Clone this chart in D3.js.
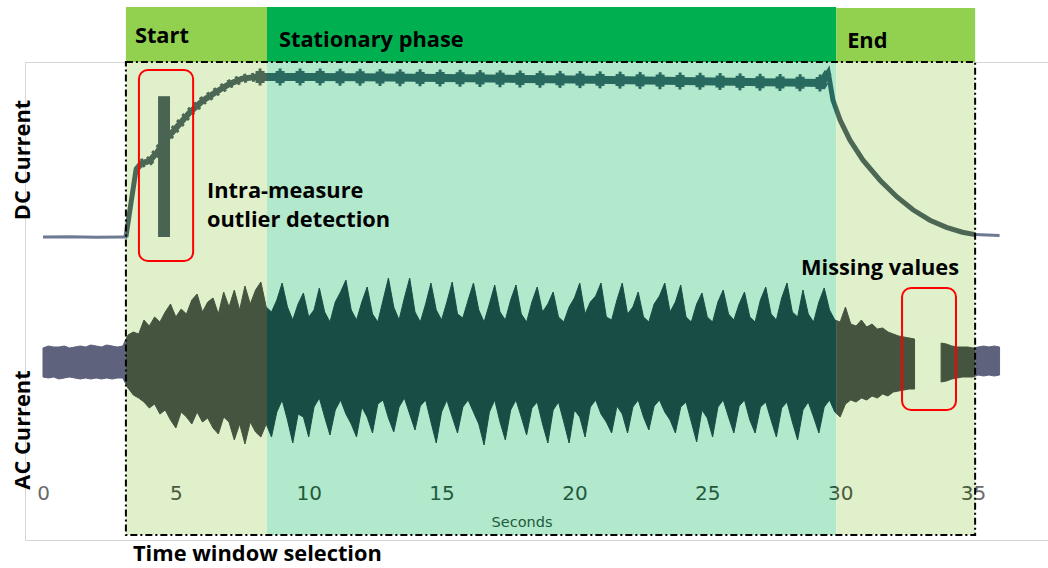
<!DOCTYPE html>
<html>
<head>
<meta charset="utf-8">
<script src="https://cdn.jsdelivr.net/npm/d3@7"></script>
<style>
    body { margin: 0; background: #fff; }
    .label { font-family: "Open Sans", Lato, sans-serif; font-weight: bold; font-size: 21.8px; fill: #000; }
    .tick text { font-family: "DejaVu Sans", sans-serif; font-size: 20px; }
</style>
</head>
<body>
<svg id="chart" width="1048" height="568"></svg>
<script>
// phases of the measure (seconds)
const phaseNames = ["Start", "Stationary phase", "End"];
const phaseFrom = [3.12, 8.43, 29.85];
const phaseTo = [8.43, 29.85, 35.08];
const headerColors = ["#92d050", "#00b050", "#92d050"];
const shadeColors = ["#dff0cb", "#b2e8cc", "#dff0cb"];

const tickValues = [0, 5, 10, 15, 20, 25, 30, 35];

// DC current
const dcTime = [0, 1, 2, 3, 3.12, 3.3, 3.5, 3.7, 4.0, 4.3, 4.6, 5.0, 5.5, 6.0, 6.5, 7.0, 7.5, 8.0, 8.43,
    10, 12, 14, 16, 18, 20, 22, 24, 26, 28, 29.3, 29.55, 29.73, 30.0, 30.37, 30.86, 31.5, 32.14, 32.74,
    33.38, 34.0, 34.6, 35.08, 36.0];
const dcValue = [0, 0.02, -0.02, 0, 0, 2.0, 4.2, 4.6, 4.75, 5.3, 6.05, 6.8, 7.75, 8.5, 9.05, 9.55, 9.9, 10.0, 10.0,
    10.0, 9.98, 9.95, 9.92, 9.88, 9.84, 9.8, 9.75, 9.7, 9.65, 9.62, 10.3, 8.55, 7.3, 6.05, 4.8, 3.55, 2.5, 1.7,
    1.05, 0.6, 0.3, 0.15, 0.1];

// outlier spike inside the start phase
const outlierFrom = 4.33, outlierTo = 4.78, outlierValue = 8.8;

// AC current envelope, one reading every 0.2 s (null = missing values)
const acStep = 0.2;
const acUpper = [14,16,15,15,16,14,15,16,15,17,16,15,17,16,15,16,
    27,30,28,42,36,45,40,50,58,45,53,48,62,68,50,60,64,48,70,55,72,52,76,58,72,80,55,
    50,62,79,55,42,58,69,45,52,74,
    50,40,60,70,82,52,42,60,75,48,
    40,62,84,55,42,64,84,50,40,58,
    79,52,42,60,80,48,44,62,79,52,
    40,58,77,50,42,62,77,48,40,60,
    75,50,58,70,45,40,55,64,79,48,
    60,66,79,45,42,62,79,48,55,70,
    45,40,58,66,79,50,60,77,45,40,
    58,69,45,40,60,72,48,42,58,70,
    45,40,62,75,48,42,64,79,50,45,
    72,48,40,60,74,52,42,
    40,55,38,36,42,35,38,33,34,30,
    28,26,25,24,23,null,null,null,null,19,
    18,16,15,15,15,14,15,16,15,16,15];
const acLower = [-15,-16,-15,-17,-16,-15,-16,-17,-16,-17,-16,-17,-16,-17,-16,-16,
    -26,-33,-36,-40,-46,-42,-52,-48,-58,-66,-50,-55,-62,-50,-60,-56,-66,-72,-55,-60,-78,-62,-82,-60,-70,-75,-62,
    -75,-50,-38,-58,-81,-52,-55,-75,-45,-36,
    -55,-73,-48,-38,-52,-62,-75,-45,-55,-71,
    -42,-38,-56,-70,-45,-36,-52,-68,-44,-38,
    -60,-81,-50,-38,-55,-71,-45,-38,-50,-62,
    -83,-50,-38,-60,-78,-48,-38,-55,-73,-46,
    -40,-62,-81,-48,-40,-60,-81,-48,-55,-75,
    -45,-38,-52,-60,-71,-44,-52,-71,-45,-38,
    -55,-68,-44,-38,-50,-58,-71,-45,-40,-60,
    -80,-48,-56,-75,-45,-38,-55,-71,-44,-38,
    -58,-71,-45,-40,-58,-75,-46,-40,-60,-78,
    -48,-40,-55,-71,-45,-38,-50,
    -55,-42,-38,-40,-36,-38,-34,-36,-32,-34,
    -30,-29,-28,-27,-27,null,null,null,null,-20,
    -19,-17,-16,-15,-15,-15,-13,-14,-13,-14,-13];

const svg = d3.select("#chart");

let x = d3.scaleLinear().domain([0, 35]).range([43, 973]);
let yDC = d3.scaleLinear().domain([0, 10]).range([237, 77]);
let yAC = d3.scaleLinear().domain([-100, 100]).range([462, 262]);

const plotTop = 62, plotBottom = 540, shadeBottom = 535;

let dc = dcTime.map((t, i) => ({t: t, v: dcValue[i]}));
let ac = acUpper.map((u, i) => ({t: i * acStep, hi: u, lo: acLower[i]}));

// clip paths: outside the window, start/end phases, stationary phase
let defs = svg.append("defs");
let clipOut = defs.append("clipPath").attr("id", "clip-out");
clipOut.append("rect").attr("x", 0).attr("y", 0).attr("width", x(phaseFrom[0])).attr("height", 568);
clipOut.append("rect").attr("x", x(phaseTo[2])).attr("y", 0).attr("width", 200).attr("height", 568);
let clipSide = defs.append("clipPath").attr("id", "clip-side");
[0, 2].forEach(k => clipSide.append("rect")
    .attr("x", x(phaseFrom[k])).attr("y", 0)
    .attr("width", x(phaseTo[k]) - x(phaseFrom[k])).attr("height", 568));
defs.append("clipPath").attr("id", "clip-mid").append("rect")
    .attr("x", x(phaseFrom[1])).attr("y", 0)
    .attr("width", x(phaseTo[1]) - x(phaseFrom[1])).attr("height", 568);

// frame of the original plot
svg.append("g").attr("stroke", "#d6d6d6").attr("stroke-width", 1).selectAll("line")
    .data([[25, plotTop, 25, plotBottom], [25, plotTop, 1048, plotTop], [25, plotBottom, 1048, plotBottom]])
    .enter().append("line")
    .attr("x1", d => d[0] + 0.5).attr("y1", d => d[1] + 0.5)
    .attr("x2", d => d[2] + 0.5).attr("y2", d => d[3] + 0.5);

// phase shading and headers
svg.append("g").selectAll("rect")
    .data(phaseNames).enter().append("rect")
    .attr("x", (d, i) => x(phaseFrom[i]))
    .attr("width", (d, i) => x(phaseTo[i]) - x(phaseFrom[i]))
    .attr("y", plotTop).attr("height", shadeBottom - plotTop)
    .attr("fill", (d, i) => shadeColors[i]);
svg.append("g").selectAll("rect")
    .data(phaseNames).enter().append("rect")
    .attr("x", (d, i) => x(phaseFrom[i]))
    .attr("width", (d, i) => x(phaseTo[i]) - x(phaseFrom[i]))
    .attr("y", (d, i) => i == 2 ? 8 : 7).attr("height", (d, i) => plotTop - (i == 2 ? 8 : 7))
    .attr("fill", (d, i) => headerColors[i]);

let acArea = d3.area()
    .defined(d => d.hi != null)
    .x(d => x(d.t)).y0(d => yAC(d.lo)).y1(d => yAC(d.hi));
let dcLine = d3.line().x(d => x(d.t)).y(d => yDC(d.v));

function between(t0, t1) {
    return dc.filter(d => d.t >= t0 && d.t <= t1);
}

// the signals are coloured differently inside each part of the window
function drawSignals(clipId, acColor, dcColor, tickColor) {
    let g = svg.append("g").attr("clip-path", `url(#${clipId})`);
    g.append("path").datum(ac).attr("d", acArea)
        .attr("fill", acColor).attr("stroke", acColor).attr("stroke-width", 1);
    g.append("path").datum(dc).attr("d", dcLine)
        .attr("fill", "none").attr("stroke", dcColor).attr("stroke-width", 3);
    g.append("path").datum(between(3.12, 35.08)).attr("d", dcLine)
        .attr("fill", "none").attr("stroke", dcColor).attr("stroke-width", 5);
    g.append("path").datum(between(3.5, 8.43)).attr("d", dcLine)
        .attr("fill", "none").attr("stroke", dcColor).attr("stroke-width", 6);
    g.append("path").datum(between(3.7, 8.43)).attr("d", dcLine)
        .attr("fill", "none").attr("stroke", dcColor).attr("stroke-width", 9)
        .attr("stroke-dasharray", "3 5");
    g.append("path").datum(between(8.0, 29.55)).attr("d", dcLine)
        .attr("fill", "none").attr("stroke", dcColor).attr("stroke-width", 8);
    // ripple of the DC current in the stationary phase
    g.append("path").datum(between(8.0, 29.55)).attr("d", dcLine)
        .attr("fill", "none").attr("stroke", dcColor).attr("stroke-width", 12)
        .attr("stroke-dasharray", "9 11");
    g.append("path").datum(between(8.0, 29.55)).attr("d", dcLine)
        .attr("fill", "none").attr("stroke", dcColor).attr("stroke-width", 17)
        .attr("stroke-dasharray", "3 17").attr("stroke-dashoffset", -3);

    let axis = d3.axisBottom(x).tickValues(tickValues).tickSize(0).tickPadding(0);
    let ax = g.append("g").attr("transform", "translate(0,500)").call(axis);
    ax.select(".domain").remove();
    ax.selectAll("text").attr("dy", 0).attr("fill", tickColor);
    g.append("text").text("Seconds")
        .attr("x", 522).attr("y", 527).attr("text-anchor", "middle")
        .style("font-family", "DejaVu Sans, sans-serif").style("font-size", "14.5px")
        .attr("fill", tickColor);
    return g;
}

drawSignals("clip-out", "#5e627d", "#6e7994", "#6a6a6a");
drawSignals("clip-side", "#45543f", "#4c6754", "#4b5a3b");
drawSignals("clip-mid", "#174d45", "#296a60", "#1f5a3d");

// outlier
svg.append("rect")
    .attr("x", x(outlierFrom)).attr("width", x(outlierTo) - x(outlierFrom))
    .attr("y", yDC(outlierValue)).attr("height", yDC(0) - yDC(outlierValue))
    .attr("fill", "#4a6454");

// time window selection border
svg.append("rect")
    .attr("x", x(phaseFrom[0])).attr("y", plotTop)
    .attr("width", x(phaseTo[2]) - x(phaseFrom[0])).attr("height", shadeBottom - plotTop)
    .attr("fill", "none").attr("stroke", "#000").attr("stroke-width", 2)
    .attr("stroke-dasharray", "7 3 2 3");

// red boxes
svg.append("rect")
    .attr("x", x(3.61)).attr("width", x(5.65) - x(3.61))
    .attr("y", yDC(10.44)).attr("height", yDC(-1.5) - yDC(10.44))
    .attr("rx", 9).attr("fill", "none").attr("stroke", "#ff0000").attr("stroke-width", 2);
svg.append("rect")
    .attr("x", x(32.33)).attr("width", x(34.36) - x(32.33))
    .attr("y", yAC(74)).attr("height", yAC(-48) - yAC(74))
    .attr("rx", 9).attr("fill", "none").attr("stroke", "#ff0000").attr("stroke-width", 2);

// labels
let labels = svg.append("g");
labels.selectAll("text.phase").data(phaseNames).enter().append("text")
    .attr("class", "label phase")
    .attr("x", (d, i) => x(phaseFrom[i]) + [9, 12, 11][i])
    .attr("y", (d, i) => [43, 47, 48][i])
    .text(d => d);
labels.append("text").attr("class", "label").attr("x", 207).attr("y", 198).text("Intra-measure");
labels.append("text").attr("class", "label").attr("x", 207).attr("y", 227).text("outlier detection");
labels.append("text").attr("class", "label").attr("x", 801).attr("y", 275).text("Missing values");
labels.append("text").attr("class", "label").attr("x", 133).attr("y", 561).text("Time window selection");
labels.append("text").attr("class", "label").attr("text-anchor", "middle")
    .attr("transform", "translate(30,160) rotate(-90)").text("DC Current");
labels.append("text").attr("class", "label").attr("text-anchor", "middle")
    .attr("transform", "translate(30,430) rotate(-90)").text("AC Current");
</script>
</body>
</html>
